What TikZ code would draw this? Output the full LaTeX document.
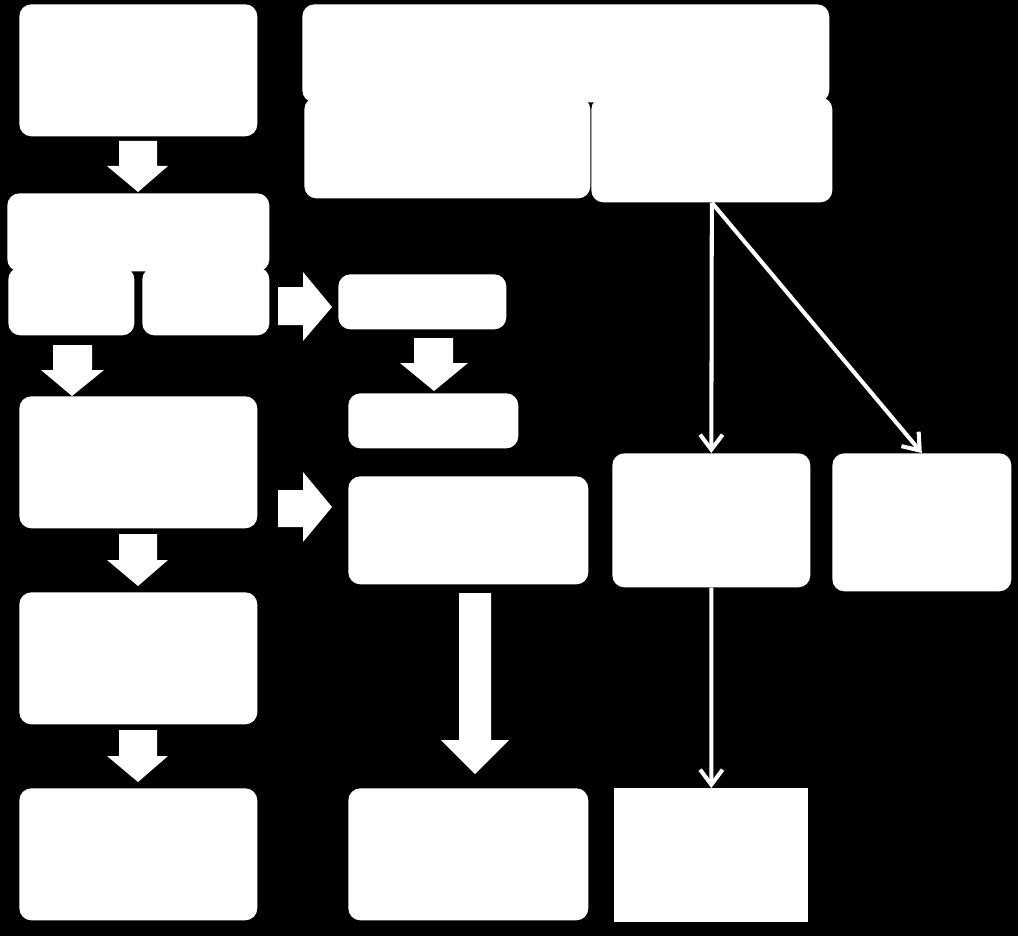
\documentclass[tikz,border=0pt]{standalone}
\usetikzlibrary{arrows.meta}

\begin{document}
\begin{tikzpicture}[x=0.02cm,y=-0.02cm,
 box/.style={fill=white,rounded corners=0.24cm,inner sep=0pt,anchor=north west},
 flat/.style={fill=white,inner sep=0pt,anchor=north west},
 blk/.style={fill=white},
 thin/.style={white,line width=2.3pt,-{Straight Barb[length=0.3cm,width=0.45cm]}}]
\fill[black] (0,0) rectangle (1018,936);
\useasboundingbox (0,0) rectangle (1018,936);
% left column
\node[box,minimum width=4.76cm,minimum height=2.64cm] (start) at (19,4) {};
\node[box,minimum width=2.52cm,minimum height=1.36cm] (left) at (8,267) {};
\node[box,minimum width=2.54cm,minimum height=1.36cm] (right) at (142,267) {};
\node[box,minimum width=5.24cm,minimum height=1.56cm] (split) at (7,193) {};
\node[box,minimum width=4.76cm,minimum height=2.64cm] (prep) at (19,396) {};
\node[box,minimum width=4.76cm,minimum height=2.64cm] (run) at (19,592) {};
\node[box,minimum width=4.76cm,minimum height=2.64cm] (done) at (19,788) {};
% middle column
\node[box,minimum width=3.36cm,minimum height=1.1cm] (check) at (338,274) {};
\node[box,minimum width=3.4cm,minimum height=1.1cm] (keep) at (348,393) {};
\node[box,minimum width=4.8cm,minimum height=2.16cm] (model) at (348,476) {};
\node[box,minimum width=4.8cm,minimum height=2.64cm] (result) at (348,788) {};
% top and right
\node[box,minimum width=5.72cm,minimum height=2.02cm] (sub) at (304,97) {};
\node[box,minimum width=4.82cm,minimum height=2.1cm] (src) at (591,97) {};
\node[box,minimum width=10.54cm,minimum height=1.96cm] (head) at (302,4) {};
\node[box,minimum width=3.96cm,minimum height=2.68cm] (outa) at (612,453) {};
\node[box,minimum width=3.58cm,minimum height=2.76cm] (outb) at (832,453) {};
\node[flat,minimum width=3.88cm,minimum height=2.68cm] (last) at (614,788) {};
% block arrows
\fill[blk] (119,141) -- (157,141) -- (157,166) -- (168,166) -- (138,192) -- (107,166) -- (119,166) -- cycle;
\fill[blk] (53,345) -- (92,345) -- (92,370) -- (104,370) -- (72,396) -- (41,370) -- (53,370) -- cycle;
\fill[blk] (119,534) -- (157,534) -- (157,560) -- (168,560) -- (138,586) -- (107,560) -- (119,560) -- cycle;
\fill[blk] (119,730) -- (157,730) -- (157,756) -- (168,756) -- (138,782) -- (107,756) -- (119,756) -- cycle;
\fill[blk] (278,287) -- (303,287) -- (303,272) -- (332,307) -- (303,341) -- (303,325) -- (278,325) -- cycle;
\fill[blk] (278,490) -- (303,490) -- (303,472) -- (332,507) -- (303,542) -- (303,527) -- (278,527) -- cycle;
\fill[blk] (414,338) -- (453,338) -- (453,363) -- (468,363) -- (434,391) -- (400,363) -- (414,363) -- cycle;
\fill[blk] (459,593) -- (491,593) -- (491,740) -- (509,740) -- (475,774) -- (441,740) -- (459,740) -- cycle;
% thin connectors
\draw[thin] (src.south) -- (outa.north);
\draw[thin] (src.south) -- (outb.north);
\draw[thin] (outa.south) -- (last.north);
\end{tikzpicture}
\end{document}
